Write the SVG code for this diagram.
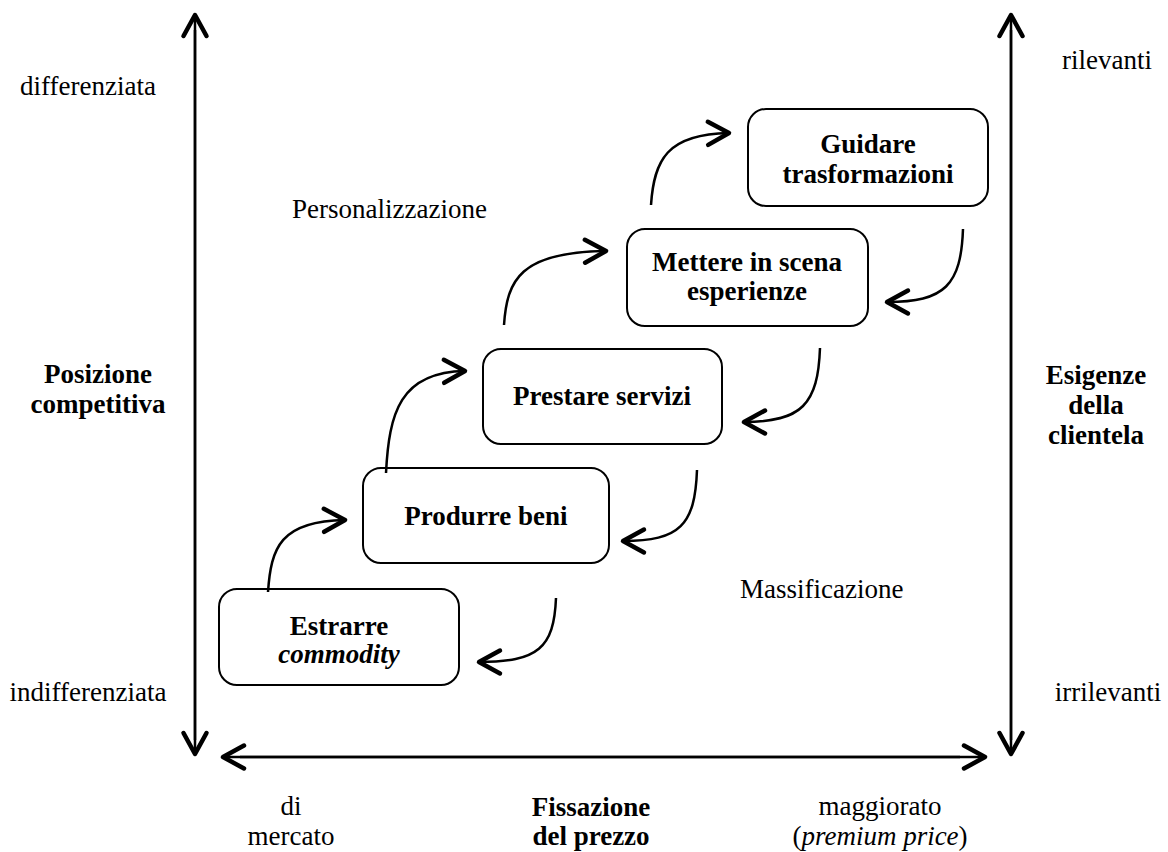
<svg xmlns="http://www.w3.org/2000/svg" width="1168" height="852" viewBox="0 0 1168 852">
<style>
text{font-family:"Liberation Serif","Times New Roman",serif;font-size:27px;fill:#000}
.b{font-weight:bold}
.i{font-style:italic}
.m{text-anchor:middle}
.box{fill:#fff;stroke:#000;stroke-width:2}
.ax{fill:none;stroke:#000;stroke-width:2.5}
.cv{fill:none;stroke:#000;stroke-width:2.5}
</style>
<defs>
<marker id="ah" markerUnits="userSpaceOnUse" markerWidth="34" markerHeight="34" viewBox="-28 -17 34 34" refX="0" refY="0" orient="auto">
<path d="M-21,-11.5 L0,0 L-21,11.5" fill="none" stroke="#000" stroke-width="4.5" stroke-linecap="round" stroke-linejoin="round"/>
</marker>
</defs>
<rect width="1168" height="852" fill="#fff"/>
<g id="axes">
<path class="ax" d="M195,740 L195,15" marker-end="url(#ah)"/>
<path class="ax" d="M195,30 L195,754" marker-end="url(#ah)"/>
<path class="ax" d="M1011,740 L1011,15" marker-end="url(#ah)"/>
<path class="ax" d="M1011,30 L1011,754" marker-end="url(#ah)"/>
<path class="ax" d="M960,757 L223,757" marker-end="url(#ah)"/>
<path class="ax" d="M240,757 L985,757" marker-end="url(#ah)"/>
</g>
<g id="labels">
<text class="m" x="88" y="95">differenziata</text>
<text class="m" x="88" y="701">indifferenziata</text>
<text class="m" x="1107" y="69">rilevanti</text>
<text class="m" x="1108" y="701">irrilevanti</text>
<text class="b m" x="98" y="383">Posizione</text>
<text class="b m" x="98" y="413">competitiva</text>
<text class="b m" x="1096" y="384">Esigenze</text>
<text class="b m" x="1096" y="414">della</text>
<text class="b m" x="1096" y="444">clientela</text>
<text class="m" x="291" y="815">di</text>
<text class="m" x="291" y="845">mercato</text>
<text class="b m" x="591" y="816">Fissazione</text>
<text class="b m" x="591" y="845">del prezzo</text>
<text class="m" x="880" y="815">maggiorato</text>
<text class="m" x="880" y="845">(<tspan class="i">premium price</tspan>)</text>
<text x="292" y="218">Personalizzazione</text>
<text x="740" y="598">Massificazione</text>
</g>
<g id="n1">
<rect class="box" x="219" y="589" width="240" height="96" rx="18"/>
<text class="b m" x="339" y="635">Estrarre</text>
<text class="b i m" x="339" y="663">commodity</text>
</g>
<g id="n2">
<rect class="box" x="363" y="468" width="246" height="95" rx="18"/>
<text class="b m" x="486" y="525">Produrre beni</text>
</g>
<g id="n3">
<rect class="box" x="483" y="349" width="239" height="95" rx="18"/>
<text class="b m" x="602" y="405">Prestare servizi</text>
</g>
<g id="n4">
<rect class="box" x="627" y="229" width="241" height="97" rx="18"/>
<text class="b m" x="747" y="271">Mettere in scena</text>
<text class="b m" x="747" y="300">esperienze</text>
</g>
<g id="n5">
<rect class="box" x="748" y="109" width="240" height="97" rx="18"/>
<text class="b m" x="868" y="153">Guidare</text>
<text class="b m" x="868" y="183">trasformazioni</text>
</g>
<g id="connectors">
<path class="cv" d="M268,592 C271,548 280,521 345,520" marker-end="url(#ah)"/>
<path class="cv" d="M386,473 C389,413 400,372 465,371" marker-end="url(#ah)"/>
<path class="cv" d="M504,325 C507,280 520,252 606,251" marker-end="url(#ah)"/>
<path class="cv" d="M651,205 C654,160 667,134 729,133" marker-end="url(#ah)"/>
<path class="cv" d="M963,229 C961,285 945,302 887,302" marker-end="url(#ah)"/>
<path class="cv" d="M820,348 C818,404 802,422 744,422" marker-end="url(#ah)"/>
<path class="cv" d="M697,470 C695,525 680,541 623,541" marker-end="url(#ah)"/>
<path class="cv" d="M556,598 C554,648 538,662 479,662" marker-end="url(#ah)"/>
</g>
</svg>
